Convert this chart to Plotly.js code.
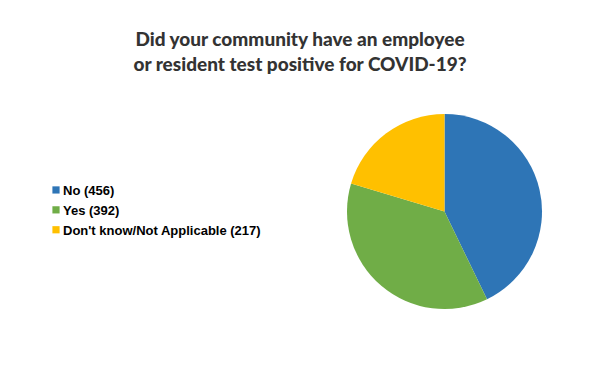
<!DOCTYPE html>
<html><head><meta charset="utf-8">
<script src="https://cdn.plot.ly/plotly-3.0.1.min.js"></script>
<style>html,body{margin:0;padding:0;background:#fff}</style>
</head><body>
<div id="chart" style="width:600px;height:378px"></div>
<script>
const categories = ["No", "Yes", "Don't know/Not Applicable"];
const counts = [456, 392, 217];
const colors = ["#2E75B6", "#70AD47", "#FFC000"];
const titleText = "Did your community have an employee<br>or resident test positive for COVID-19?";

const labels = categories.map((c, i) => c + " (" + counts[i] + ")");
const W = 600, H = 378;
const data = [{
  type: "pie",
  labels: labels,
  values: counts,
  sort: false,
  direction: "clockwise",
  rotation: 0,
  textinfo: "none",
  hoverinfo: "label+percent",
  marker: {colors: colors, line: {width: 0}},
  domain: {x: [346 / W, 543 / W], y: [1 - 309 / H, 1 - 114 / H]}
}];
const layout = {
  width: W, height: H,
  margin: {l: 0, r: 0, t: 0, b: 0},
  paper_bgcolor: "#ffffff",
  showlegend: true,
  title: {
    text: titleText,
    font: {family: "Lato, sans-serif", size: 19, color: "#333333", weight: 900},
    x: 0.5, xanchor: "center", xref: "paper",
    y: 1 - 46 / H, yanchor: "middle", yref: "container"
  },
  legend: {
    x: 23 / W, xanchor: "left",
    y: 1 - 175 / H, yanchor: "top",
    font: {family: "Liberation Sans, Arial, sans-serif", size: 13, color: "#000000", weight: 700},
    bgcolor: "rgba(0,0,0,0)", borderwidth: 0, tracegroupgap: 0
  }
};
function fixLegend() {
  document.querySelectorAll(".legend .legendpoints").forEach(g => {
    g.setAttribute("transform", "translate(21,0) scale(0.6)");
  });
}
Plotly.newPlot("chart", data, layout, {displayModeBar: false, staticPlot: true}).then(fixLegend);
</script>
</body></html>
